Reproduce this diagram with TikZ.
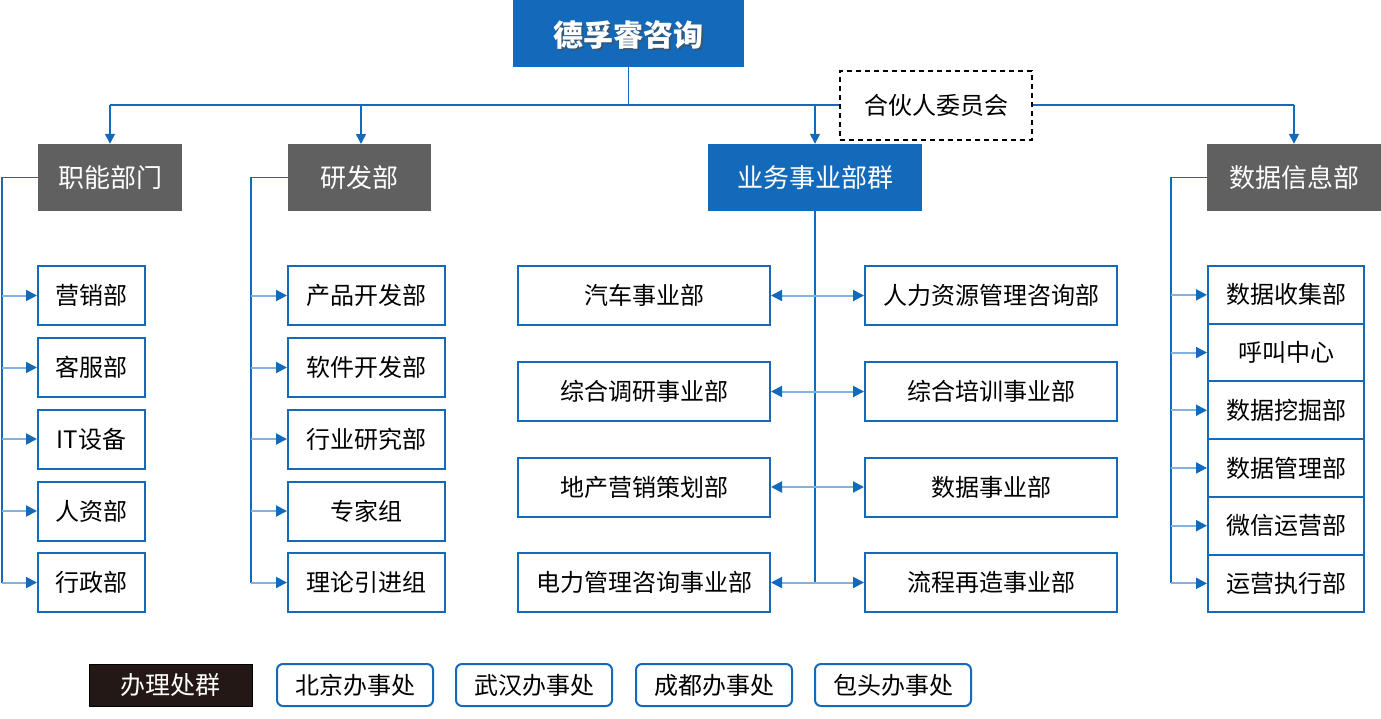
\documentclass[tikz,border=0pt]{standalone}
\usepackage{fontspec}
\setmainfont{Noto Sans CJK SC}
\usetikzlibrary{arrows.meta}
\definecolor{mblue}{HTML}{136ABA}
\definecolor{lblue}{HTML}{80B3E2}
\definecolor{hgray}{HTML}{606060}
\definecolor{dblack}{HTML}{231815}
\begin{document}
\begin{tikzpicture}[x=1pt,y=-1pt,
  hdr/.style={fill=hgray,text=white,minimum height=67pt,inner sep=0pt,font=\fontsize{26}{30}\selectfont},
  bhdr/.style={fill=mblue,text=white,minimum height=67pt,inner sep=0pt,font=\fontsize{26}{30}\selectfont},
  kid/.style={draw=mblue,line width=2pt,fill=white,text=black,minimum height=59pt,inner sep=0pt,font=\fontsize{24}{28}\selectfont},
  skid/.style={kid,minimum width=156pt,minimum height=57.7pt},
  office/.style={draw=mblue,line width=2pt,rounded corners=6pt,fill=white,minimum width=156pt,minimum height=42pt,inner sep=0pt,font=\fontsize{24}{28}\selectfont},
  trunk/.style={draw=mblue,line width=1.8pt},
  bus/.style={draw=mblue,line width=1.5pt},
  tip/.style={-{Triangle[length=11pt,width=11pt]}},
  branch/.style={draw=lblue,line width=2pt,tip,arrows={-{Triangle[length=11pt,width=11pt,color=mblue]}}},
  dbranch/.style={draw=lblue,line width=2pt,arrows={-{Triangle[length=11pt,width=11pt,color=mblue]}}},
  down/.style={draw=mblue,line width=1.5pt,-{Triangle[length=10pt,width=10pt]}}
]
\useasboundingbox (0,0) rectangle (1381,718);

% top
\node[fill=mblue,minimum width=231pt,minimum height=67pt,inner sep=0pt] (top) at (628.5,33.5) {};
\node[text=black!70,opacity=0.6,font=\fontsize{30}{34}\selectfont\bfseries] (topshadow) at (630.5,36.5) {德孚睿咨询};
\node[text=white,font=\fontsize{30}{34}\selectfont\bfseries] (toptext) at (628.5,34.5) {德孚睿咨询};

% headers
\node[hdr,minimum width=144pt] (zn) at (110,177.5) {职能部门};
\node[hdr,minimum width=143pt] (yf) at (359.5,177.5) {研发部};
\node[bhdr,minimum width=214pt] (yw) at (815,177.5) {业务事业部群};
\node[hdr,minimum width=174pt] (sj) at (1294,177.5) {数据信息部};

% bus
\coordinate (bus) at (628.5,105);
\draw[bus] (top.south) -- (bus);
\draw[bus] (bus -| zn.north) -- (bus -| sj.north);
\draw[down] (bus -| zn.north) -- (zn.north);
\draw[down] (bus -| 361,0) -- (361,144);
\draw[down] (bus -| yw.north) -- (yw.north);
\draw[down] (bus -| sj.north) -- (sj.north);

% partner committee
\node[draw=black,dashed,line width=1.5pt,dash pattern=on 5pt off 4pt,fill=white,minimum width=192pt,minimum height=69pt,font=\fontsize{24}{28}\selectfont] (pc) at (936,105.5) {合伙人委员会};

% left column
\foreach \n/\t/\y in {a1/营销部/295.5,a2/客服部/367.5,a3/IT设备/439,a4/人资部/511,a5/行政部/582.5}{
  \node[kid,minimum width=107pt] (\n) at (91.5,\y) {\t};
}
\coordinate (zl) at (2,177.5);
\draw[trunk] (zn.west) -- (zl) -- (zl |- a5.west);
\foreach \n in {a1,a2,a3,a4,a5}{ \draw[dbranch] (zl |- \n.west) -- (\n.west); }

% R&D column
\foreach \n/\t/\y in {b1/产品开发部/295.5,b2/软件开发部/367.5,b3/行业研究部/439,b4/专家组/511,b5/理论引进组/582.5}{
  \node[kid,minimum width=157pt] (\n) at (366.5,\y) {\t};
}
\coordinate (yl) at (251,177.5);
\draw[trunk] (yf.west) -- (yl) -- (yl |- b5.west);
\foreach \n in {b1,b2,b3,b4,b5}{ \draw[dbranch] (yl |- \n.west) -- (\n.west); }

% business column
\foreach \n/\t/\y in {c1/汽车事业部/295.5,c2/综合调研事业部/391.5,c3/地产营销策划部/487,c4/电力管理咨询事业部/582.5}{
  \node[kid,minimum width=252pt] (\n) at (644,\y) {\t};
}
\foreach \n/\t/\y in {d1/人力资源管理咨询部/295.5,d2/综合培训事业部/391.5,d3/数据事业部/487,d4/流程再造事业部/582.5}{
  \node[kid,minimum width=252pt] (\n) at (991,\y) {\t};
}
\draw[trunk,draw=mblue] (yw.south) -- (yw.south |- c4.east);
\foreach \l/\r in {c1/d1,c2/d2,c3/d3,c4/d4}{
  \draw[dbranch] (yw.south |- \l.east) -- (\l.east);
  \draw[dbranch] (yw.south |- \r.west) -- (\r.west);
}

% data column
\foreach \n/\t/\i in {e1/数据收集部/0,e2/呼叫中心/1,e3/数据挖掘部/2,e4/数据管理部/3,e5/微信运营部/4,e6/运营执行部/5}{
  \node[skid] (\n) at (1286,{294.85+57.7*\i}) {\t};
}
\coordinate (sl) at (1171,177.5);
\draw[trunk] (sj.west) -- (sl) -- (sl |- e6.west);
\foreach \n in {e1,e2,e3,e4,e5,e6}{ \draw[dbranch] (sl |- \n.west) -- (\n.west); }

% offices
\node[fill=dblack,draw=black,line width=1pt,text=white,minimum width=163pt,minimum height=42pt,inner sep=0pt,font=\fontsize{25}{29}\selectfont] (ob) at (170.5,685) {办理处群};
\node[office] (o1) at (355,685) {北京办事处};
\node[office] (o2) at (534,685) {武汉办事处};
\node[office] (o3) at (714,685) {成都办事处};
\node[office] (o4) at (893,685) {包头办事处};
\end{tikzpicture}
\end{document}
